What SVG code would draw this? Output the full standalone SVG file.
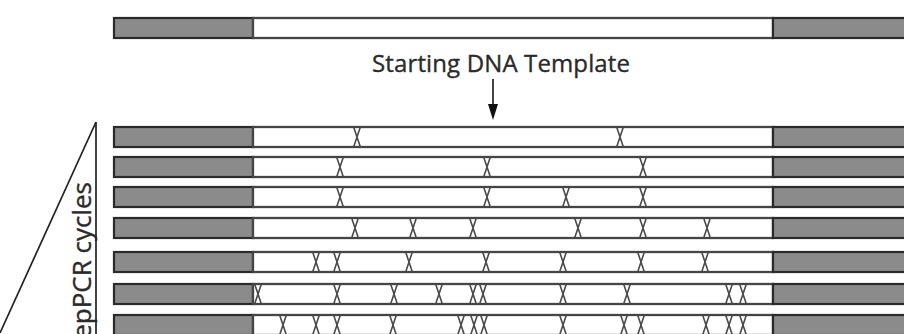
<svg xmlns="http://www.w3.org/2000/svg" xmlns:xlink="http://www.w3.org/1999/xlink" width="904" height="334" viewBox="0 0 904 334">
  <style>
    .end { fill: #8b8b8b; stroke: #2a2a2a; stroke-width: 2.2; }
    .mid { fill: #ffffff; stroke: #454545; stroke-width: 2.3; }
    .mut { fill: none; stroke: #4a4a4a; stroke-width: 1.6; }
    .lbl { font-family: "Open Sans", "Liberation Sans", sans-serif; fill: #2a2a2a; stroke: #2a2a2a; stroke-width: 0.35; }
    .edge { stroke: #222222; stroke-width: 1.7; fill: none; }
  </style>
  <defs>
    <!-- DNA strand: primer ends in grey, variable region in white -->
    <g id="strand">
      <rect class="end" x="114" y="0" width="139" height="20"/>
      <rect class="mid" x="253" y="0" width="520" height="20"/>
      <rect class="end" x="773" y="0" width="140" height="20"/>
    </g>
    <!-- point mutation marker -->
    <path id="mx" class="mut" d="M-3.2,0.5 Q0,10 3.2,19.5 M3.2,0.5 Q0,10 -3.2,19.5"/>
  </defs>

  <g id="template" transform="translate(0,18)">
    <use xlink:href="#strand"/>
  </g>

  <text id="template-label" class="lbl" x="501" y="72" font-size="24" text-anchor="middle" textLength="258">Starting DNA Template</text>

  <g id="connectors">
    <line class="edge" x1="493" y1="79" x2="493" y2="104"/>
    <path d="M488,104 L498,104 L493,120 Z" fill="#111111"/>
    <!-- cycle wedge -->
    <line class="edge" x1="96" y1="122" x2="96" y2="334"/>
    <line class="edge" x1="96" y1="122" x2="0" y2="333"/>
  </g>

  <text id="cycles-label" class="lbl" font-size="26" text-anchor="end" transform="translate(91,182) rotate(-90)">epPCR cycles</text>

  <g id="cycle1" transform="translate(0,127)">
    <use xlink:href="#strand"/>
    <use xlink:href="#mx" x="357"/><use xlink:href="#mx" x="620"/>
  </g>
  <g id="cycle2" transform="translate(0,157)">
    <use xlink:href="#strand"/>
    <use xlink:href="#mx" x="340"/><use xlink:href="#mx" x="487"/><use xlink:href="#mx" x="643"/>
  </g>
  <g id="cycle3" transform="translate(0,187)">
    <use xlink:href="#strand"/>
    <use xlink:href="#mx" x="340"/><use xlink:href="#mx" x="487"/><use xlink:href="#mx" x="566"/><use xlink:href="#mx" x="643"/>
  </g>
  <g id="cycle4" transform="translate(0,218)">
    <use xlink:href="#strand"/>
    <use xlink:href="#mx" x="355"/><use xlink:href="#mx" x="413"/><use xlink:href="#mx" x="473"/><use xlink:href="#mx" x="578"/><use xlink:href="#mx" x="643"/><use xlink:href="#mx" x="707"/>
  </g>
  <g id="cycle5" transform="translate(0,252)">
    <use xlink:href="#strand"/>
    <use xlink:href="#mx" x="316"/><use xlink:href="#mx" x="337"/><use xlink:href="#mx" x="409"/><use xlink:href="#mx" x="486"/><use xlink:href="#mx" x="563"/><use xlink:href="#mx" x="641"/><use xlink:href="#mx" x="705"/>
  </g>
  <g id="cycle6" transform="translate(0,284)">
    <use xlink:href="#strand"/>
    <use xlink:href="#mx" x="258"/><use xlink:href="#mx" x="337"/><use xlink:href="#mx" x="394"/><use xlink:href="#mx" x="439"/><use xlink:href="#mx" x="473"/><use xlink:href="#mx" x="483"/><use xlink:href="#mx" x="563"/><use xlink:href="#mx" x="627"/><use xlink:href="#mx" x="729"/><use xlink:href="#mx" x="743"/>
  </g>
  <g id="cycle7" transform="translate(0,315)">
    <use xlink:href="#strand"/>
    <use xlink:href="#mx" x="283"/><use xlink:href="#mx" x="316"/><use xlink:href="#mx" x="337"/><use xlink:href="#mx" x="393"/><use xlink:href="#mx" x="461"/><use xlink:href="#mx" x="474"/><use xlink:href="#mx" x="484"/><use xlink:href="#mx" x="563"/><use xlink:href="#mx" x="624"/><use xlink:href="#mx" x="641"/><use xlink:href="#mx" x="706"/><use xlink:href="#mx" x="729"/><use xlink:href="#mx" x="743"/>
  </g>
</svg>
